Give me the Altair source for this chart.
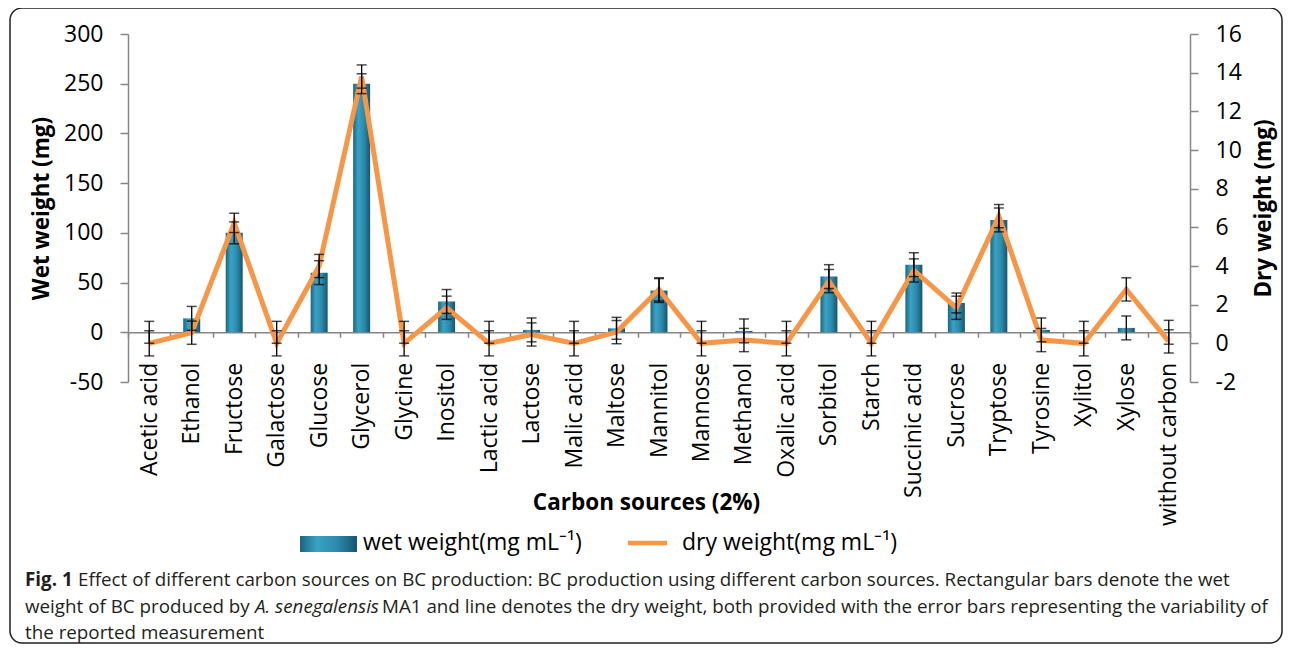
import altair as alt
import pandas as pd

# ---------------- data ----------------
cats = ["Acetic acid", "Ethanol", "Fructose", "Galactose", "Glucose", "Glycerol",
        "Glycine", "Inositol", "Lactic acid", "Lactose", "Malic acid", "Maltose",
        "Mannitol", "Mannose", "Methanol", "Oxalic acid", "Sorbitol", "Starch",
        "Succinic acid", "Sucrose", "Tryptose", "Tyrosine", "Xylitol", "Xylose",
        "without carbon"]
wet = [0, 14, 100, 0, 60, 250, 0, 31, 0, 2.4, 0, 4, 42, 0, 1.4, 0, 56, 0, 68, 29.5,
       113, 2.4, 0, 4.4, 0]
wet_err = [11, 12, 11, 11, 12, 10, 11, 12, 11, 12, 11, 11, 12, 11, 12, 11, 12, 11,
           12, 10, 12, 12, 11, 12, 12]
dry = [0, 0.55, 6.23, 0, 4.0, 13.8, 0, 1.84, 0, 0.46, 0, 0.58, 2.79, 0, 0.17, 0,
       3.22, 0, 3.77, 1.84, 6.58, 0.17, 0, 2.79, 0.1]
dry_err = [0.65, 0.6, 0.5, 0.65, 0.6, 0.6, 0.65, 0.6, 0.65, 0.6, 0.65, 0.6, 0.6,
           0.65, 0.6, 0.65, 0.6, 0.65, 0.6, 0.6, 0.6, 0.6, 0.65, 0.6, 0.6]

wet_ticks = [-50, 0, 50, 100, 150, 200, 250, 300]
dry_ticks = [-2, 0, 2, 4, 6, 8, 10, 12, 14, 16]

df = pd.DataFrame({"cat": cats, "wet": wet, "wet_err": wet_err,
                   "dry": dry, "dry_err": dry_err})
df["wet_lo"] = df["wet"] - df["wet_err"]
df["wet_hi"] = df["wet"] + df["wet_err"]
df["dry_lo"] = df["dry"] - df["dry_err"]
df["dry_hi"] = df["dry"] + df["dry_err"]

# ---------------- style ----------------
FONT = "Open Sans"
AX = "#868686"
ORANGE = "#F79646"
W, H = 1062, 348
HYPHEN = "replace(datum.label, '\u2212', '-')"

bar_grad = alt.Gradient(
    gradient="linear", x1=0, x2=1, y1=0, y2=0,
    stops=[alt.GradientStop(color="#1a6580", offset=0),
           alt.GradientStop(color="#3aa2c4", offset=0.3),
           alt.GradientStop(color="#2b8aab", offset=0.65),
           alt.GradientStop(color="#155570", offset=1)])

x_enc = alt.X("cat:N", sort=cats,
              scale=alt.Scale(domain=cats, paddingInner=0, paddingOuter=0),
              axis=alt.Axis(title="Carbon sources (2%)", offset=-49.71,
                            domainColor=AX, domainWidth=1.5, tickColor=AX,
                            tickWidth=1.5, tickSize=5, tickBand="extent",
                            labelAngle=270, labelAlign="right", labelBaseline="middle",
                            labelPadding=25, labelFont=FONT, labelFontSize=23,
                            labelColor="black", labelOverlap=False, labelLimit=300,
                            titleFont=FONT, titleFontSize=22.5, titleFontWeight="bold",
                            titleColor="black", titleX=518, titleY=177,
                            titleAlign="center", titleBaseline="alphabetic"))

wet_scale = alt.Scale(domain=[-50, 300], nice=False, zero=False)
dry_scale = alt.Scale(domain=[-2, 16], nice=False, zero=False)

wet_axis = alt.Axis(title="Wet weight (mg)", values=wet_ticks, orient="left", grid=False,
                    labelExpr=HYPHEN,
                    domainColor=AX, domainWidth=1.5, tickColor=AX, tickWidth=1.5,
                    tickSize=8, labelPadding=17, labelFont=FONT, labelFontSize=23,
                    labelColor="black", titleFont=FONT, titleFontSize=22.5,
                    titleFontWeight="bold", titleColor="black", titleAngle=270,
                    titleX=-80, titleY=174, titleAlign="center",
                    titleBaseline="alphabetic")
dry_axis = alt.Axis(title="Dry weight (mg)", values=dry_ticks, orient="right", grid=False,
                    labelExpr=HYPHEN,
                    domainColor=AX, domainWidth=1.5, tickColor=AX, tickWidth=1.5,
                    tickSize=8, labelPadding=17, labelFont=FONT, labelFontSize=23,
                    labelColor="black", titleFont=FONT, titleFontSize=22.5,
                    titleFontWeight="bold", titleColor="black", titleAngle=270,
                    titleX=80, titleY=174, titleAlign="center",
                    titleBaseline="alphabetic")

base = alt.Chart(df)

bars = base.mark_bar(size=17, color=bar_grad).encode(
    x=x_enc,
    y=alt.Y("wet:Q", scale=wet_scale, axis=wet_axis),
    y2=alt.datum(0))

line = base.mark_line(color=ORANGE, strokeWidth=5, strokeJoin="miter").encode(
    x=x_enc,
    y=alt.Y("dry:Q", scale=dry_scale, axis=dry_axis))


def errs(lo, hi, scale):
    rule = base.mark_rule(color="black", strokeWidth=1.3).encode(
        x=x_enc, y=alt.Y(f"{lo}:Q", scale=scale, axis=None), y2=f"{hi}:Q")
    cap_lo = base.mark_tick(color="black", size=10, thickness=1.5,
                            orient="horizontal").encode(
        x=x_enc, y=alt.Y(f"{lo}:Q", scale=scale, axis=None))
    cap_hi = base.mark_tick(color="black", size=10, thickness=1.5,
                            orient="horizontal").encode(
        x=x_enc, y=alt.Y(f"{hi}:Q", scale=scale, axis=None))
    return alt.layer(rule, cap_lo, cap_hi)


wet_err_layer = errs("wet_lo", "wet_hi", wet_scale)
dry_err_layer = errs("dry_lo", "dry_hi", dry_scale)

one = alt.Chart(pd.DataFrame({"k": [0]}))

frame = one.mark_rect(filled=False, stroke="#222222", strokeWidth=1.5,
                      cornerRadius=12).encode(
    x=alt.value(-118), x2=alt.value(1154), y=alt.value(-26), y2=alt.value(609))

# legend
leg_bar = one.mark_rect(color=bar_grad).encode(
    x=alt.value(172), x2=alt.value(229), y=alt.value(502), y2=alt.value(518))
leg_line = one.mark_rule(color=ORANGE, strokeWidth=4.5).encode(
    x=alt.value(500), x2=alt.value(539), y=alt.value(509))
leg_t1 = one.mark_text(font=FONT, fontSize=23, align="left", baseline="middle",
                       color="black").encode(
    x=alt.value(235), y=alt.value(509), text=alt.value("wet weight(mg mL\u207b\u00b9)"))
leg_t2 = one.mark_text(font=FONT, fontSize=23, align="left", baseline="middle",
                       color="black").encode(
    x=alt.value(554), y=alt.value(509), text=alt.value("dry weight(mg mL\u207b\u00b9)"))

# caption
CAP = 18.8
CAPC = "#231f20"


def cap(txt, x, y, weight="normal", style="normal"):
    return one.mark_text(font=FONT, fontSize=CAP, align="left", baseline="alphabetic",
                         color=CAPC, fontWeight=weight, fontStyle=style).encode(
        x=alt.value(x), y=alt.value(y), text=alt.value(txt))


caption = alt.layer(
    cap("Fig. 1", -103, 552, weight="bold"),
    cap("Effect of different carbon sources on BC production: BC production using "
        "different carbon sources. Rectangular bars denote the wet", -50, 552),
    cap("weight of BC produced by ", -103, 579),
    cap("A. senegalensis", 127, 579, style="italic"),
    cap("MA1 and line denotes the dry weight, both provided with the error bars "
        "representing the variability of", 254, 579),
    cap("the reported measurement", -103, 605),
)

chart = alt.layer(
    frame, bars, line, wet_err_layer, dry_err_layer,
    leg_bar, leg_line, leg_t1, leg_t2, caption
).resolve_scale(y="independent").properties(
    width=W, height=H,
    padding={"left": 120, "top": 26, "right": 94, "bottom": 263},
    autosize=alt.AutoSizeParams(type="none"),
    background="white"
).configure_view(stroke=None)

chart.save("out.html", embed_options={"renderer": "svg", "actions": False})
